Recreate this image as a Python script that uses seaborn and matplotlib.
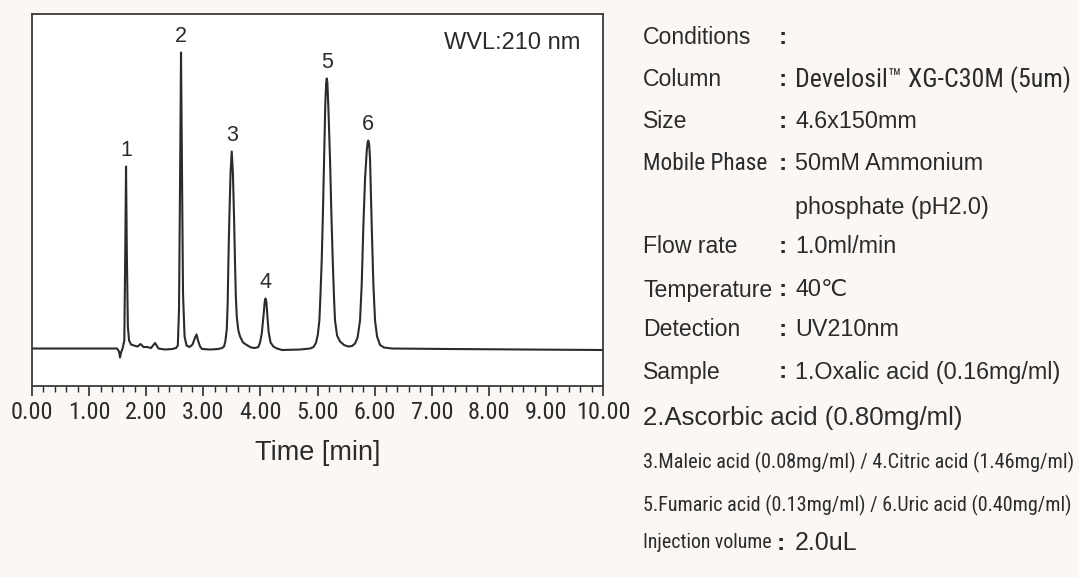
import numpy as np
import pandas as pd
import seaborn as sns
import matplotlib
matplotlib.use("Agg")
import matplotlib.pyplot as plt
from matplotlib import font_manager
from matplotlib.font_manager import FontProperties
from matplotlib.ticker import MultipleLocator

## chromatogram trace (time in min, signal in mAU)
time_min = [0.000, 1.191, 1.489, 1.524, 1.541, 1.559, 1.585, 1.616, 1.632, 1.646,
            1.660, 1.678, 1.699, 1.734, 1.786, 1.848, 1.900, 1.953, 2.014, 2.084,
            2.154, 2.215, 2.329, 2.452, 2.522, 2.553, 2.574, 2.592, 2.609, 2.627,
            2.644, 2.671, 2.706, 2.758, 2.811, 2.855, 2.881, 2.907, 2.942, 2.977,
            3.117, 3.257, 3.327, 3.362, 3.385, 3.410, 3.426, 3.438, 3.455, 3.476,
            3.497, 3.518, 3.538, 3.555, 3.569, 3.585, 3.613, 3.643, 3.695, 3.760,
            3.835, 3.905, 3.963, 3.993, 4.023, 4.054, 4.075, 4.089, 4.103, 4.121,
            4.142, 4.177, 4.226, 4.291, 4.378, 4.694, 4.869, 4.930, 4.974, 5.005,
            5.032, 5.052, 5.073, 5.096, 5.114, 5.136, 5.150, 5.161, 5.172, 5.189,
            5.219, 5.242, 5.266, 5.289, 5.306, 5.342, 5.394, 5.464, 5.539, 5.604,
            5.657, 5.701, 5.744, 5.774, 5.802, 5.832, 5.862, 5.877, 5.889, 5.904,
            5.919, 5.949, 5.977, 6.007, 6.042, 6.095, 6.165, 6.305, 7.320, 10.000]
signal = [0, 0, 0, -3, -9, -4, 0, 8, 95, 182,
          95, 22, 8, 4, 3, 2, 4.5, 1.5, 1.5, 0.5,
          5.5, 0, -1, -0.5, 0.5, 3, 40, 165, 296, 170,
          55, 12, 3, 1.5, 4, 11, 14, 8, 2, -0.5,
          -1, -0.5, 0.5, 2, 7, 19, 45, 85, 130, 175,
          197, 175, 130, 85, 52, 32, 18, 12, 6, 3.5,
          1, 0.5, 1.5, 6, 15, 33, 47, 50, 47, 33,
          17, 6, 2, 0, -1.5, -1, 0, 1.5, 6, 14,
          28, 55, 88, 140, 188, 245, 265, 270, 266, 242,
          188, 135, 88, 50, 28, 13, 7, 3.5, 2, 2.5,
          5, 11, 28, 65, 122, 170, 198, 206, 208, 204,
          190, 122, 65, 28, 12, 3.5, 1, 0, -0.5, -1.5]

peak_ids = ['1', '2', '3', '4', '5', '6']
peak_times = [1.646, 2.609, 3.497, 4.089, 5.161, 5.889]
peak_heights = [182, 296, 197, 50, 270, 208]

tick_values = [0, 1, 2, 3, 4, 5, 6, 7, 8, 9, 10]
tick_labels = ['0.00', '1.00', '2.00', '3.00', '4.00', '5.00',
               '6.00', '7.00', '8.00', '9.00', '10.00']

cond_labels = ['Conditions', 'Column', 'Size', 'Mobile Phase', '',
               'Flow rate', 'Temperature', 'Detection', 'Sample']
cond_values = ['', 'Develosil\u2122 XG-C30M (5um)', '4.6x150mm', '50mM Ammonium',
               'phosphate (pH2.0)', '1.0ml/min', '40\u2103', 'UV210nm',
               '1.Oxalic acid (0.16mg/ml)']
sample_lines = ['2.Ascorbic acid (0.80mg/ml)',
                '3.Maleic acid (0.08mg/ml) / 4.Citric acid (1.46mg/ml)',
                '5.Fumaric acid (0.13mg/ml) / 6.Uric acid (0.40mg/ml)']
injection = ('Injection volume', '2.0uL')

df = pd.DataFrame({'time': time_min, 'signal': signal})

sns.set_style('white')
plt.rcParams['font.family'] = ['Liberation Sans', 'DejaVu Sans']

## look for a narrow / condensed sans face for the squeezed lines
ttf = font_manager.fontManager.ttflist
def regular(f):
    return f.style == 'normal' and f.weight in (400, 'normal', 'regular')
cond_path = None
for pref in ['Liberation Sans Narrow', 'Roboto Condensed', 'Open Sans Condensed',
             'Noto Sans Condensed', 'DejaVu Sans Condensed']:
    hits = [f for f in ttf if f.name == pref and regular(f)]
    if hits:
        cond_path = hits[0].fname
        break
if cond_path is None:
    hits = [f for f in ttf if regular(f) and 'Sans' in f.name and 'Mono' not in f.name
            and f.stretch in ('condensed', 'semi-condensed', 'extra-condensed')]
    if hits:
        cond_path = hits[0].fname

def narrow_props(size):
    if cond_path:
        return FontProperties(fname=cond_path, size=size)
    return FontProperties(family=['Liberation Sans', 'DejaVu Sans'], size=size * 0.88)

ink = '#2b2b2b'
fig = plt.figure(figsize=(10.79, 5.77), dpi=100, facecolor='#faf7f4')
ax = fig.add_axes([0.0297, 0.331, 0.5292, 0.6447])
ax.set_facecolor('white')

sns.lineplot(ax=ax, data=df, x='time', y='signal', color=ink, linewidth=1.5,
             errorbar=None, sort=False)

for pid, pt, ph in zip(peak_ids, peak_times, peak_heights):
    ax.annotate(pid, (pt, ph), xytext=(0, 4), textcoords='offset points',
                ha='center', va='bottom', fontsize=15.5, color=ink)

ax.text(0.961, 0.922, 'WVL:210 nm', transform=ax.transAxes, ha='right',
        va='center', fontsize=17, color=ink)

ax.set_xlim(0, 10)
ax.set_ylim(-37.5, 334.5)
ax.set_xticks(tick_values)
ax.set_xticklabels(tick_labels)
for lbl in ax.get_xticklabels():
    lbl.set_fontproperties(narrow_props(17.5))
ax.xaxis.set_minor_locator(MultipleLocator(0.2))
ax.tick_params(axis='x', which='major', direction='out', length=7.5, width=1.2,
               pad=3, colors=ink, bottom=True)
ax.tick_params(axis='x', which='minor', direction='out', length=4, width=1.0,
               colors=ink, bottom=True)
ax.set_yticks([])
ax.set_ylabel('')
ax.set_xlabel('Time [min]', fontsize=19.5, color=ink, labelpad=12)
for s in ax.spines.values():
    s.set_color('#3a3a3a')
    s.set_linewidth(1.3)

## conditions block on the right
W, H = 1079, 577
renderer = fig.canvas.get_renderer()

def fit_text(x, y, s, width_px, props, **kw):
    # squeeze a line into the width it takes in the reference
    t = fig.text(x, y, s, fontproperties=props, **kw)
    w = t.get_window_extent(renderer=renderer).width
    t.set_fontsize(props.get_size_in_points() * width_px / w)
    return t

x_lab, x_col, x_val = 643 / W, 783 / W, 795 / W
rows_y = [37, 80, 122, 163, 207, 247, 290, 330, 372]
for lab, val, yp in zip(cond_labels, cond_values, rows_y):
    y = 1 - yp / H
    if lab == 'Mobile Phase':
        fit_text(x_lab, y, lab, 125, narrow_props(16), ha='left', va='center', color=ink)
    elif lab:
        fig.text(x_lab, y, lab, ha='left', va='center', fontsize=16.6, color=ink)
    if lab:
        fig.text(x_col, y, ':', ha='center', va='center', fontsize=17.5, color=ink,
                 fontweight='bold')
    if lab == 'Column':
        fit_text(x_val, y, val, 276, narrow_props(17), ha='left', va='center', color=ink)
    elif val:
        fig.text(x_val, y, val, ha='left', va='center', fontsize=16.8, color=ink,
                 family=['Liberation Sans', 'DejaVu Sans'])

fig.text(x_lab, 1 - 418 / H, sample_lines[0], ha='left', va='center',
         fontsize=18.5, color=ink)
fit_text(x_lab, 1 - 462 / H, sample_lines[1], 430, narrow_props(16),
         ha='left', va='center', color=ink)
fit_text(x_lab, 1 - 505 / H, sample_lines[2], 430, narrow_props(16),
         ha='left', va='center', color=ink)
fit_text(x_lab, 1 - 543 / H, injection[0], 129, narrow_props(16),
         ha='left', va='center', color=ink)
fig.text(x_col - 2 / W, 1 - 543 / H, ':', ha='center', va='center', fontsize=17.5,
         color=ink, fontweight='bold')
fig.text(x_val, 1 - 543 / H, injection[1], ha='left', va='center', fontsize=18,
         color=ink)

fig.savefig('out.png', dpi=100, facecolor=fig.get_facecolor())
